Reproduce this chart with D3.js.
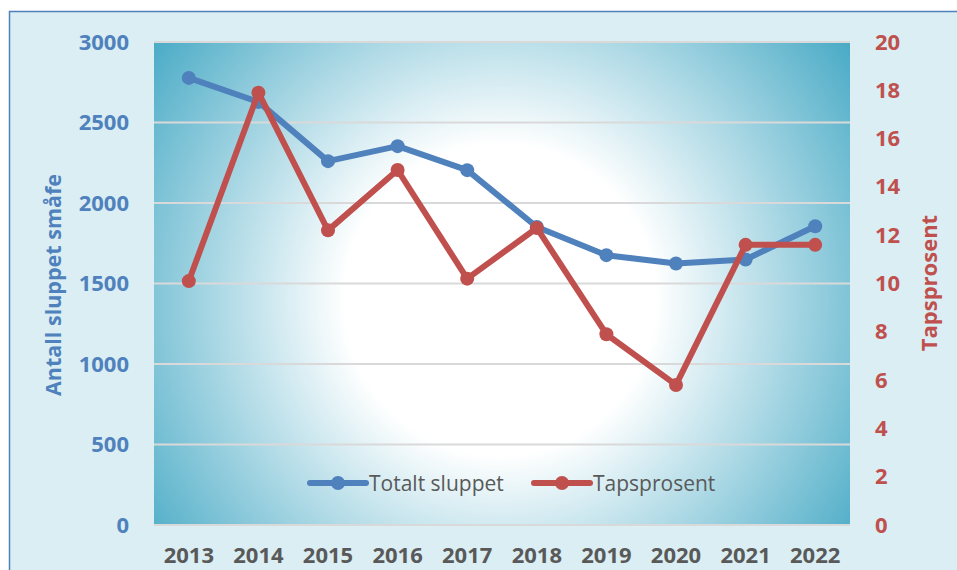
<!DOCTYPE html>
<html>
  <head>
    <meta charset="UTF-8" />
    <script src="https://d3js.org/d3.v7.min.js"></script>
    <style>
      body { margin: 0; background: #fff; }
    </style>
  </head>
  <body>
    <div id="chart"></div>
    <script>
      // data
      var years = ["2013", "2014", "2015", "2016", "2017", "2018", "2019", "2020", "2021", "2022"];
      var totaltSluppet = [2777, 2628, 2260, 2353, 2204, 1851, 1676, 1624, 1649, 1856];
      var tapsprosent = [10.1, 17.9, 12.2, 14.7, 10.2, 12.3, 7.9, 5.8, 11.6, 11.6];
      var leftTicks = [0, 500, 1000, 1500, 2000, 2500, 3000];
      var rightTicks = [0, 2, 4, 6, 8, 10, 12, 14, 16, 18, 20];

      var W = 957, H = 570;
      var plot = { left: 154, right: 850, top: 42, bottom: 525 };
      var blue = "#4f81bd", red = "#c0504d", grey = "#595959";
      var font = "'Open Sans', sans-serif";

      var svg = d3.select("#chart").append("svg")
        .attr("width", W)
        .attr("height", H);

      // chart area
      svg.append("rect")
        .attr("x", 9.5).attr("y", 11.5)
        .attr("width", W).attr("height", H)
        .attr("fill", "#daeef3")
        .attr("stroke", blue)
        .attr("stroke-width", 1.5);

      // radial fill of the plot area
      var grad = svg.append("defs").append("radialGradient")
        .attr("id", "bg")
        .attr("gradientUnits", "userSpaceOnUse")
        .attr("cx", 500).attr("cy", 300).attr("r", 432);
      grad.append("stop").attr("offset", 0).attr("stop-color", "#ffffff");
      grad.append("stop").attr("offset", 0.36).attr("stop-color", "#ffffff");
      grad.append("stop").attr("offset", 1).attr("stop-color", "#4aabc6");

      svg.append("rect")
        .attr("x", plot.left).attr("y", plot.top)
        .attr("width", plot.right - plot.left)
        .attr("height", plot.bottom - plot.top)
        .attr("fill", "url(#bg)");

      var x = d3.scaleBand()
        .domain(years)
        .range([plot.left, plot.right]);
      var cx = function(d, i) { return x(years[i]) + x.bandwidth() / 2; };

      var yL = d3.scaleLinear().domain([0, 3000]).range([plot.bottom, plot.top]);
      var yR = d3.scaleLinear().domain([0, 20]).range([plot.bottom, plot.top]);

      // gridlines
      svg.append("g")
        .selectAll("line")
        .data(leftTicks)
        .enter().append("line")
        .attr("x1", plot.left).attr("x2", plot.right)
        .attr("y1", function(d) { return yL(d); })
        .attr("y2", function(d) { return yL(d); })
        .attr("stroke", "#d9d9d9")
        .attr("stroke-width", 2);

      // left axis
      var axL = svg.append("g")
        .attr("transform", "translate(" + (plot.left - 25) + ",0)")
        .call(d3.axisLeft(yL).tickValues(leftTicks).tickFormat(d3.format("d")).tickSize(0).tickPadding(0));
      axL.select(".domain").remove();
      axL.selectAll("text")
        .attr("fill", blue)
        .style("font-family", font)
        .style("font-weight", 700)
        .style("font-size", "22px");

      // right axis
      var axR = svg.append("g")
        .attr("transform", "translate(" + (plot.right + 25) + ",0)")
        .call(d3.axisRight(yR).tickValues(rightTicks).tickFormat(d3.format("d")).tickSize(0).tickPadding(0));
      axR.select(".domain").remove();
      axR.selectAll("text")
        .attr("fill", red)
        .style("font-family", font)
        .style("font-weight", 700)
        .style("font-size", "22px");

      // x axis
      var axX = svg.append("g")
        .attr("transform", "translate(0," + (plot.bottom + 22) + ")")
        .call(d3.axisBottom(x).tickSize(0).tickPadding(0));
      axX.select(".domain").remove();
      axX.selectAll("text")
        .attr("fill", grey)
        .style("font-family", font)
        .style("font-weight", 700)
        .style("font-size", "22px");

      // axis titles
      svg.append("text")
        .attr("transform", "translate(52,285)rotate(-90)")
        .attr("text-anchor", "middle")
        .attr("dominant-baseline", "central")
        .attr("fill", blue)
        .style("font-family", font)
        .style("font-weight", 700)
        .style("font-size", "21.5px")
        .text("Antall sluppet småfe");

      svg.append("text")
        .attr("transform", "translate(928,283)rotate(-90)")
        .attr("text-anchor", "middle")
        .attr("dominant-baseline", "central")
        .attr("fill", red)
        .style("font-family", font)
        .style("font-weight", 700)
        .style("font-size", "22px")
        .text("Tapsprosent");

      // lines
      var series = [
        { name: "Totalt sluppet", values: totaltSluppet, y: yL, color: blue },
        { name: "Tapsprosent", values: tapsprosent, y: yR, color: red }
      ];

      series.forEach(function(s) {
        var g = svg.append("g");
        g.append("path")
          .datum(s.values)
          .attr("d", d3.line()
            .x(cx)
            .y(function(d) { return s.y(d); }))
          .attr("fill", "none")
          .attr("stroke", s.color)
          .attr("stroke-width", 6)
          .attr("stroke-linejoin", "round");
        g.selectAll("circle")
          .data(s.values)
          .enter().append("circle")
          .attr("cx", cx)
          .attr("cy", function(d) { return s.y(d); })
          .attr("r", 7)
          .attr("fill", s.color);
      });

      // legend
      var legendX = [310, 534];
      var legend = svg.append("g")
        .selectAll("g")
        .data(series)
        .enter().append("g")
        .attr("transform", function(d, i) { return "translate(" + legendX[i] + ",483)"; });
      legend.append("line")
        .attr("x1", 0).attr("x2", 56)
        .attr("stroke", function(d) { return d.color; })
        .attr("stroke-width", 6)
        .attr("stroke-linecap", "round");
      legend.append("circle")
        .attr("cx", 28).attr("r", 7)
        .attr("fill", function(d) { return d.color; });
      legend.append("text")
        .attr("x", 59)
        .attr("dominant-baseline", "central")
        .attr("fill", grey)
        .style("font-family", font)
        .style("font-size", "21px")
        .text(function(d) { return d.name; });
    </script>
  </body>
</html>
